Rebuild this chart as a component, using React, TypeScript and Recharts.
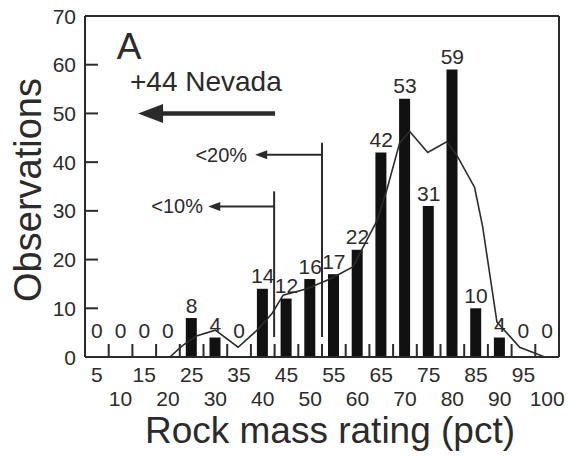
import React from 'react';
import {
  Bar,
  ComposedChart,
  LabelList,
  Line,
  ReferenceDot,
  ReferenceLine,
  XAxis,
  YAxis,
  Label,
} from 'recharts';

// RMR bins and counts
const rmrBins = [5, 10, 15, 20, 25, 30, 35, 40, 45, 50, 55, 60, 65, 70, 75, 80, 85, 90, 95, 100];
const observations = [0, 0, 0, 0, 8, 4, 0, 14, 12, 16, 17, 22, 42, 53, 31, 59, 10, 4, 0, 0];

// smoothed frequency curve drawn over the bars
const curveRmr = [20.4, 23, 26, 30, 34.8, 38.8, 42, 44.3, 49.3, 54.2, 59, 61.1, 64.1, 66.2, 68.9, 71, 74.8, 78.8, 80.9, 84.7, 86.4, 89.4, 94.2, 99.5];
const curveObs = [0, 2.3, 4.3, 5.5, 2, 5.5, 9, 12.7, 14, 16, 18.5, 22.4, 28, 34.4, 44, 46.3, 42, 44.2, 41.5, 34.8, 26.7, 7.2, 2, 0];

const yTicks = [0, 10, 20, 30, 40, 50, 60, 70];
const innerYTicks = [10, 20, 30, 40, 50, 60];
const frameXTicks = [7.5, 12.5, 17.5, 22.5, 27.5, 32.5, 37.5, 42.5, 47.5, 52.5, 57.5, 62.5, 67.5, 72.5, 77.5, 82.5, 87.5, 92.5, 97.5];

// percentile markers (RMR value, top of the vertical line, arrow height)
const p10 = { rmr: 42.4, top: 34, arrowY: 30.9, tip: 28.5, textAt: 27.4 };
const p20 = { rmr: 52.5, top: 44, arrowY: 41.5, tip: 38.4, textAt: 36.7 };
const lineBottom = 4.1;

const FONT = '"Liberation Sans", Arial, Helvetica, sans-serif';
const INK = '#2b2b2b';

const rows = rmrBins.map((rmr, i) => ({ rmr, obs: observations[i] }));
const curve = curveRmr.map((x, i) => ({ x, y: curveObs[i] }));

const arrowShape = (shaft: number, headLen: number, headHalf: number) => (p: any) => {
  const { x1, y1, x2, y2 } = p;
  const dx = x2 - x1;
  const dy = y2 - y1;
  const len = Math.hypot(dx, dy) || 1;
  const ux = dx / len;
  const uy = dy / len;
  const bx = x2 - ux * headLen;
  const by = y2 - uy * headLen;
  const nx = -uy;
  const ny = ux;
  return (
    <g>
      <line x1={x1} y1={y1} x2={bx + ux * 1} y2={by + uy * 1} stroke={INK} strokeWidth={shaft} />
      <polygon
        points={`${x2},${y2} ${bx + nx * headHalf},${by + ny * headHalf} ${bx - nx * headHalf},${by - ny * headHalf}`}
        fill={INK}
      />
    </g>
  );
};

const textShape = (text: string, size: number, anchor: string) => (p: any) => (
  <text x={p.cx} y={p.cy} dy="0.35em" textAnchor={anchor} fontSize={size} fontFamily={FONT} fill={INK}>
    {text}
  </text>
);

const RmrTick = (props: any) => {
  const { x, y, payload, index } = props;
  const half = payload && payload.offset ? payload.offset : 11.85;
  const firstRow = index % 2 === 0;
  return (
    <g>
      <text x={x} y={y + (firstRow ? 25 : 49)} textAnchor="middle" fontSize={21} fontFamily={FONT} fill={INK}>
        {payload.value}
      </text>
      {index < rmrBins.length - 1 && (
        <line x1={x + half} x2={x + half} y1={y} y2={y - 13} stroke={INK} strokeWidth={2} />
      )}
    </g>
  );
};

const ObsTick = (props: any) => {
  const { x, y, payload } = props;
  return (
    <text x={x} y={y} dy="0.36em" textAnchor="end" fontSize={21} fontFamily={FONT} fill={INK}>
      {payload.value}
    </text>
  );
};

// count label above each bar; zeros sit a little higher, clear of the curve
const CountLabel = (props: any) => {
  const { x, y, value } = props;
  const ty = value === 0 ? y - 27 : y - 13;
  return (
    <text x={x} y={ty} dy="0.36em" textAnchor="middle" fontSize={21} fontFamily={FONT} fill={INK}>
      {value}
    </text>
  );
};

export default function App() {
  return (
    <div style={{ position: 'absolute', left: 0, top: 0, background: '#fff' }}>
      <ComposedChart
        width={568}
        height={458}
        data={rows}
        margin={{ top: 16, right: 9, bottom: 0, left: 25 }}
        barCategoryGap={0}
      >
        <XAxis
          xAxisId="cat"
          dataKey="rmr"
          type="category"
          height={101}
          interval={0}
          tickSize={0}
          tickMargin={0}
          tickLine={false}
          axisLine={{ stroke: INK, strokeWidth: 2 }}
          tick={<RmrTick />}
        >
          <Label
            content={(p: any) => {
              const vb = p.viewBox || { x: 85, y: 357, width: 474 };
              return (
                <text
                  x={vb.x + vb.width / 2 + 8}
                  y={vb.y + 86}
                  textAnchor="middle"
                  fontSize={37}
                  fontFamily={FONT}
                  fill={INK}
                >
                  Rock mass rating (pct)
                </text>
              );
            }}
          />
        </XAxis>
        <XAxis
          xAxisId="top"
          dataKey="x"
          type="number"
          orientation="top"
          mirror
          domain={[2.5, 102.5]}
          allowDataOverflow
          ticks={frameXTicks}
          tickSize={13}
          tick={false}
          tickLine={{ stroke: INK, strokeWidth: 2 }}
          axisLine={{ stroke: INK, strokeWidth: 2 }}
        />
        {/* negative tick size: tick marks point into the plot, labels stay outside */}
        <YAxis
          yAxisId="left"
          width={60}
          domain={[0, 70]}
          allowDataOverflow
          ticks={yTicks}
          interval={0}
          tickSize={-13}
          tickMargin={22}
          tickLine={{ stroke: INK, strokeWidth: 2 }}
          axisLine={{ stroke: INK, strokeWidth: 2 }}
          tick={<ObsTick />}
        >
          <Label
            content={() => (
              <text
                transform="translate(41, 190) rotate(-90)"
                textAnchor="middle"
                fontSize={38}
                fontFamily={FONT}
                fill={INK}
              >
                Observations
              </text>
            )}
          />
        </YAxis>
        <YAxis
          yAxisId="right"
          orientation="right"
          mirror
          domain={[0, 70]}
          allowDataOverflow
          ticks={innerYTicks}
          tickSize={13}
          tick={false}
          tickLine={{ stroke: INK, strokeWidth: 2 }}
          axisLine={{ stroke: INK, strokeWidth: 2 }}
        />

        <Bar xAxisId="cat" yAxisId="left" dataKey="obs" barSize={11} fill="#111" isAnimationActive={false} />
        {/* invisible series at the bar tops that carries the count labels, zeros included */}
        <Line
          xAxisId="cat"
          yAxisId="left"
          dataKey="obs"
          stroke="none"
          dot={false}
          activeDot={false}
          isAnimationActive={false}
        >
          <LabelList dataKey="obs" content={<CountLabel />} />
        </Line>
        <Line
          xAxisId="top"
          yAxisId="left"
          data={curve}
          dataKey="y"
          type="linear"
          stroke={INK}
          strokeWidth={1.6}
          dot={false}
          activeDot={false}
          isAnimationActive={false}
        />

        {/* percentile markers */}
        <ReferenceLine
          xAxisId="top"
          yAxisId="left"
          segment={[{ x: p10.rmr, y: p10.top }, { x: p10.rmr, y: lineBottom }]}
          stroke={INK}
          strokeWidth={2}
        />
        <ReferenceLine
          xAxisId="top"
          yAxisId="left"
          segment={[{ x: p20.rmr, y: p20.top }, { x: p20.rmr, y: lineBottom }]}
          stroke={INK}
          strokeWidth={2}
        />
        <ReferenceLine
          xAxisId="top"
          yAxisId="left"
          segment={[{ x: p10.rmr, y: p10.arrowY }, { x: p10.tip, y: p10.arrowY }]}
          shape={arrowShape(2, 12, 4.5)}
        />
        <ReferenceLine
          xAxisId="top"
          yAxisId="left"
          segment={[{ x: p20.rmr, y: p20.arrowY }, { x: p20.tip, y: p20.arrowY }]}
          shape={arrowShape(2, 12, 4.5)}
        />
        <ReferenceDot xAxisId="top" yAxisId="left" x={p10.textAt} y={p10.arrowY} shape={textShape('<10%', 20, 'end')} />
        <ReferenceDot xAxisId="top" yAxisId="left" x={p20.textAt} y={p20.arrowY} shape={textShape('<20%', 20, 'end')} />

        {/* Nevada note */}
        <ReferenceLine
          xAxisId="top"
          yAxisId="left"
          segment={[{ x: 42.6, y: 50 }, { x: 13.7, y: 50 }]}
          shape={arrowShape(4.5, 25, 9.5)}
        />
        <ReferenceDot xAxisId="top" yAxisId="left" x={28} y={56.6} shape={textShape('+44 Nevada', 28, 'middle')} />
        <ReferenceDot xAxisId="top" yAxisId="left" x={11.8} y={63.9} shape={textShape('A', 37, 'middle')} />
      </ComposedChart>
    </div>
  );
}
